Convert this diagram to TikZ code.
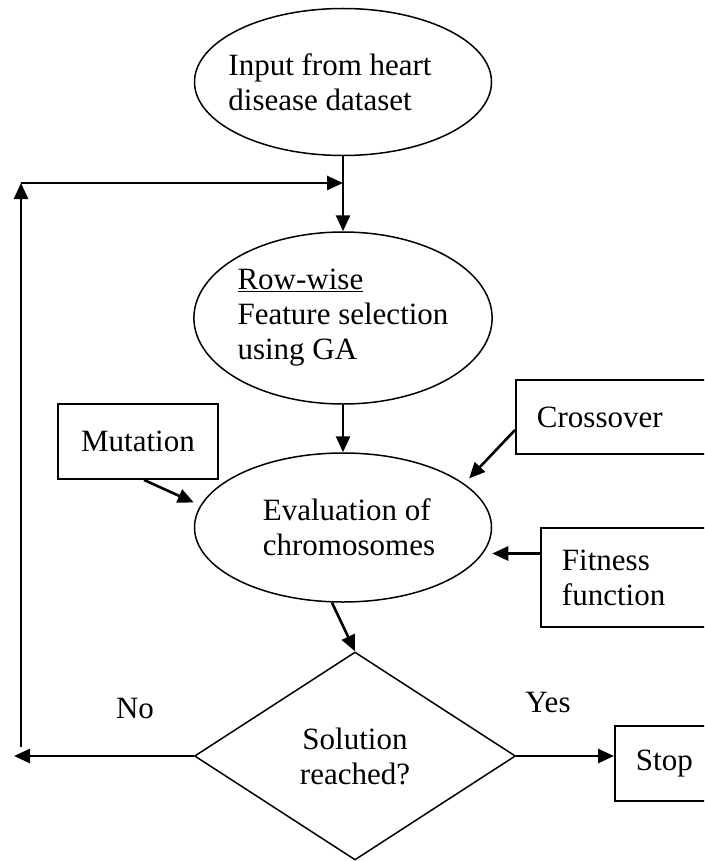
\documentclass[tikz,border=0pt]{standalone}
\usepackage{fontspec}
\setmainfont{Liberation Serif}
\usetikzlibrary{shapes.geometric,arrows.meta,calc}
\begin{document}
\begin{tikzpicture}[x=1pt,y=-1pt,
  txt/.style={font=\fontsize{31}{35}\selectfont, align=left},
  oval/.style={ellipse, draw, line width=1.5pt, inner sep=0pt, minimum width=297pt, txt},
  box/.style={rectangle, draw, line width=1.9pt, txt},
  arr/.style={line width=2.6pt, -{Triangle[length=16pt,width=14pt]}}]
\clip (0,0) rectangle (704,861);
\fill[white] (0,0) rectangle (704,861);
% nodes
\node[oval, minimum height=147pt, inner xsep=-20pt] (in) at (343,82) {Input from heart\hspace*{26pt}\\disease dataset};
\node[oval, minimum height=172pt] (rw) at (343,318) {\underline{Row-wise}\\Feature selection\\using GA};
\node[oval, minimum height=149pt] (ev) at (343,527.5) {\hspace*{12pt}Evaluation of\\\hspace*{12pt}chromosomes};
\node[box, minimum width=160pt, minimum height=75pt] (mut) at (138,441.5) {Mutation};
\node[box, anchor=west, inner xsep=21pt, text width=200pt, minimum height=74pt] (cross) at (515,417) {Crossover};
\node[box, anchor=west, inner xsep=21pt, text width=200pt, minimum height=99pt] (fit) at (540,577.5) {Fitness\\function};
\node[diamond, draw, line width=1.5pt, inner sep=0pt, minimum width=321pt, minimum height=208pt, txt, align=center] (dec) at (355,756) {Solution\\reached?};
\node[box, anchor=west, inner xsep=21pt, text width=150pt, minimum height=75pt] (stop) at (614,763.5) {Stop};
\node[txt] (no) at (135,708) {No};
\node[txt] (yes) at (548,702) {Yes};
% helper coordinates
\coordinate (j) at (343,183);
\coordinate (corner) at (21,183);
\coordinate (fbb) at (21,747);
\coordinate (fbl) at (14,756);
% connectors
\draw[line width=2.6pt] (in.south) -- (j);
\draw[arr] (j) -- (rw.north);
\draw[arr] (fbb) -- (corner);
\draw[arr] (corner) -- (j);
\draw[arr] (dec.west) -- (fbl);
\draw[arr] (rw.south) -- (ev.north);
\draw[arr] ([xshift=6pt]mut.south) -- ([yshift=25pt]ev.west);
\draw[arr] ([yshift=-13pt]cross.west) -- ($(ev.center)+(126,-49)$);
\draw[arr] ([yshift=24pt]fit.west) -- ([yshift=-26pt]ev.east);
\draw[arr] ([xshift=-11pt]ev.south) -- (dec.north);
\draw[arr] (dec.east) -- (dec.east -| stop.west);
\end{tikzpicture}
\end{document}
